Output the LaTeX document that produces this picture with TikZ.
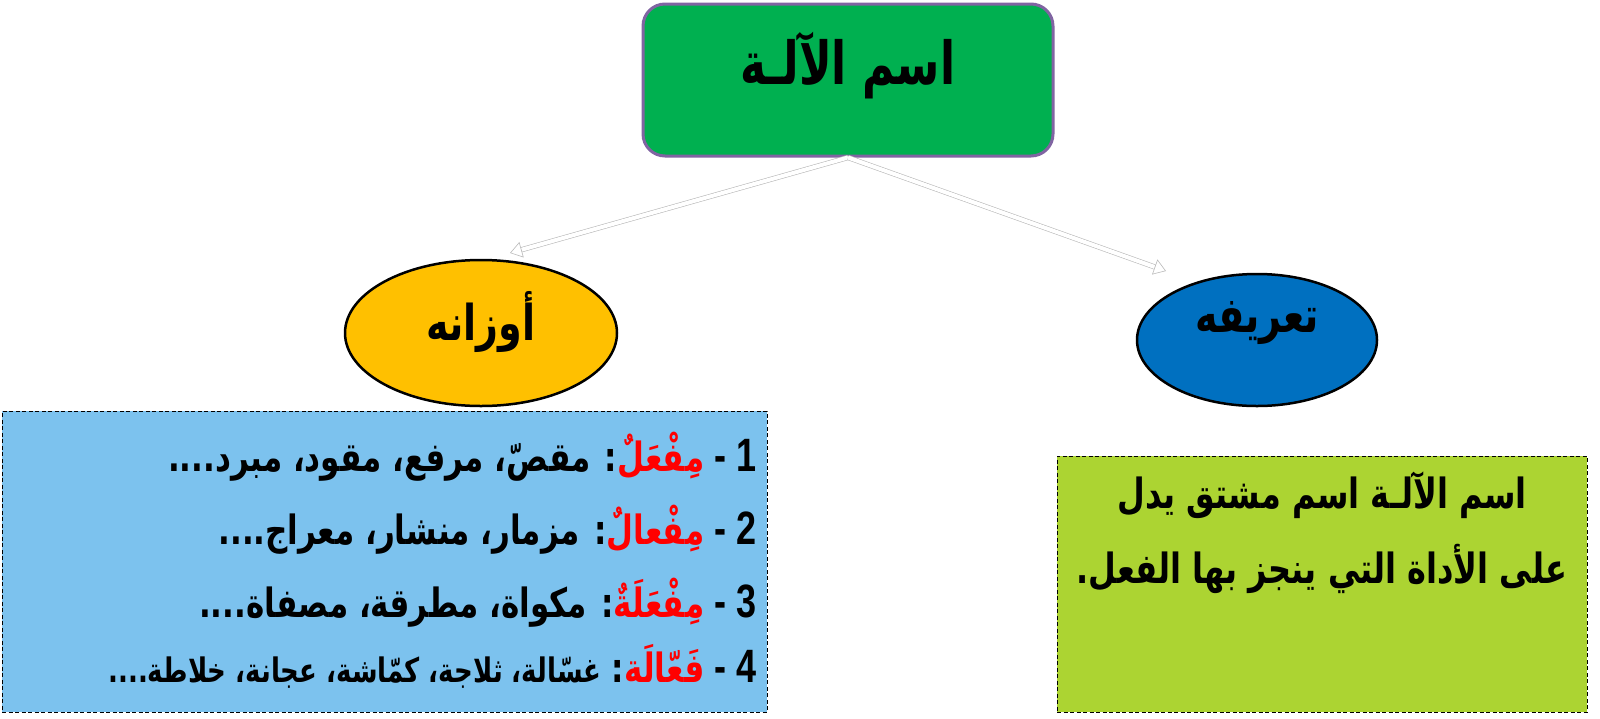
\documentclass[tikz,border=0pt]{standalone}
\usepackage{fontspec}
\usepackage{graphicx}
\TeXXeTstate=1
\newfontfamily\arabicfont[Script=Arabic]{DejaVu Sans}
\newfontfamily\latinfont{Liberation Sans}
\usetikzlibrary{shapes.geometric,arrows.meta}
\definecolor{titlegreen}{RGB}{0,176,80}
\definecolor{titleborder}{RGB}{128,100,162}
\definecolor{ovalyellow}{RGB}{255,192,0}
\definecolor{ovalblue}{RGB}{0,112,192}
\definecolor{listblue}{RGB}{124,194,238}
\definecolor{deflime}{RGB}{172,212,50}
\definecolor{arrowgray}{RGB}{185,185,185}
\definecolor{formred}{RGB}{255,0,0}
\tikzset{
 titlebox/.style={draw=titleborder, fill=titlegreen, line width=3pt, rounded corners=22pt, minimum width=410pt, minimum height=152pt, inner sep=0pt},
 oval/.style={ellipse, draw=black, line width=2.5pt, inner sep=0pt},
 panel/.style={draw=black, dash pattern=on 4pt off 2.5pt, line width=1pt, inner sep=0pt},
 hollowarrow/.style={draw=arrowgray, line width=0.6pt, double=white, double distance=4pt, -{Triangle[open,length=12pt,width=16pt]}},
 txt/.style={inner sep=0pt, anchor=base, text=black},
 bigtxt/.style={txt, font=\arabicfont\bfseries\fontsize{44}{54}\selectfont},
 ovaltxt/.style={txt, font=\arabicfont\bfseries\fontsize{38}{46}\selectfont},
 numtxt/.style={txt, anchor=base east, font=\latinfont\bfseries\fontsize{36}{44}\selectfont},
 formtxt/.style={txt, anchor=base east, text=formred, font=\arabicfont\bfseries\fontsize{31}{40}\selectfont},
 linetxt/.style={txt, anchor=base east, font=\arabicfont\bfseries\fontsize{31}{40}\selectfont},
 smalltxt/.style={txt, anchor=base east, font=\arabicfont\bfseries\fontsize{26}{32}\selectfont},
 deftxt/.style={txt, font=\arabicfont\bfseries\fontsize{32}{40}\selectfont},
}
\newcommand{\tall}[1]{\scalebox{1}[1.3]{#1}}
\begin{document}
\begin{tikzpicture}[x=1pt,y=-1pt]
\useasboundingbox (0,0) rectangle (1600,718);
% title
\node[titlebox] (title) at (848,80) {};
\node[bigtxt] (titletext) at (848,84) {\scalebox{1}[1.35]{\beginR اسم الآلـة\endR}};
% ovals
\node[oval, fill=ovalyellow, minimum width=272pt, minimum height=146pt] (weights) at (481,333) {};
\node[ovaltxt] (weightstext) at (481,340) {\tall{\beginR أوزانه\endR}};
\node[oval, fill=ovalblue, minimum width=240pt, minimum height=132pt] (defin) at (1257,340) {};
\node[ovaltxt] (defintext) at (1257,332) {\tall{\beginR تعريفه\endR}};
% arrows
\coordinate (ltip) at (510,253);
\coordinate (rtip) at (1166,271);
\draw[hollowarrow] (title.south) -- (ltip);
\draw[hollowarrow] (title.south) -- (rtip);
% panels
\node[panel, fill=listblue, minimum width=765pt, minimum height=301pt] (forms) at (384.5,561.5) {};
\node[panel, fill=deflime, minimum width=530pt, minimum height=256pt] (defbox) at (1322,584) {};
% list line 1
\node[numtxt] (n1) at (757,471) {\tall{- 1}};
\node[formtxt] (r1) at ([xshift=-10pt]n1.base west) {\tall{\beginR مِفْعَلٌ\endR}};
\node[linetxt] (b1) at (r1.base west) {\tall{\beginR: مقصّ، مرفع، مقود، مبرد....\endR}};
% list line 2
\node[numtxt] (n2) at (757,544) {\tall{- 2}};
\node[formtxt] (r2) at ([xshift=-10pt]n2.base west) {\tall{\beginR مِفْعالٌ\endR}};
\node[linetxt] (b2) at (r2.base west) {\tall{\beginR: مزمار، منشار، معراج....\endR}};
% list line 3
\node[numtxt] (n3) at (757,617) {\tall{- 3}};
\node[formtxt] (r3) at ([xshift=-10pt]n3.base west) {\tall{\beginR مِفْعَلَةٌ\endR}};
\node[linetxt] (b3) at (r3.base west) {\tall{\beginR: مكواة، مطرقة، مصفاة....\endR}};
% list line 4
\node[numtxt] (n4) at (757,682) {\tall{- 4}};
\node[formtxt] (r4) at ([xshift=-10pt]n4.base west) {\tall{\beginR فَعّالَة\endR}};
\node[linetxt] (c4) at (r4.base west) {\tall{:}};
\node[smalltxt] (b4) at ([xshift=-10pt]c4.base west) {\tall{\beginR غسّالة، ثلاجة، كمّاشة، عجانة، خلاطة....\endR}};
% definition
\node[deftxt] (d1) at (1322,508) {\tall{\beginR اسم الآلـة اسم مشتق يدل\endR}};
\node[deftxt] (d2) at (1322,583) {\tall{\beginR على الأداة التي ينجز بها الفعل.\endR}};
\end{tikzpicture}
\end{document}
